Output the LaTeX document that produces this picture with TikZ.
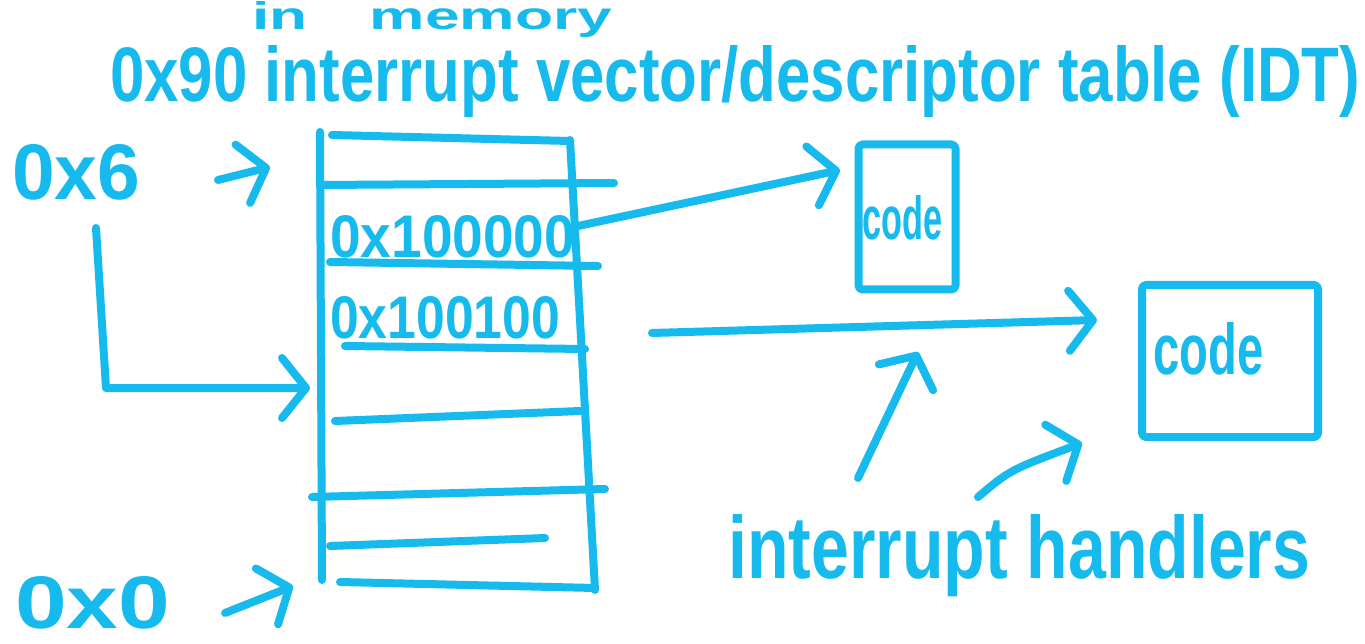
\documentclass[tikz,border=0pt]{standalone}
\usepackage{fontspec}
\setmainfont{Liberation Sans}
\usetikzlibrary{arrows.meta}
\definecolor{ink}{RGB}{22,186,236}
\newcommand{\hw}[3]{\resizebox{#1}{#2}{\bfseries #3}}
\begin{document}
\begin{tikzpicture}[x=1pt,y=-1pt,
  mk/.style={draw=ink, line width=8pt, line cap=round, line join=round},
  txt/.style={text=ink, inner sep=0pt, anchor=base west},
  hd/.style={-{Straight Barb[length=24pt,width=60pt,round]}},
  codebox/.style={mk, rectangle, rounded corners=4pt, inner sep=0pt}]
\useasboundingbox[fill=white] (0,0) rectangle (1365,644);

% texts
\node[txt] (mem) at (252,30) {\hw{360pt}{28pt}{in\quad memory}};
\node[txt] (idt) at (110,102) {\hw{1250pt}{56pt}{0x90 interrupt vector/descriptor table (IDT)}};
\node[txt] (ox6) at (12,200) {\hw{128pt}{55pt}{0x6}};
\node[txt] (ox0) at (15,628) {\hw{155pt}{52pt}{0x0}};
\node[txt] (va) at (330,258) {\hw{245pt}{42pt}{0x100000}};
\node[txt] (vb) at (330,338) {\hw{230pt}{42pt}{0x100100}};
\node[txt] (ih) at (728,578) {\hw{582pt}{64pt}{interrupt handlers}};

% table
\draw[mk] (320,132) -- (322,580);
\draw[mk] (570,140) -- (595,590);
\draw[mk] (332,135) -- (570,141);
\draw[mk] (320,185) -- (614,183);
\draw[mk] (330,262) -- (598,266);
\draw[mk] (345,346) -- (585,349);
\draw[mk] (335,421) -- (580,411);
\draw[mk] (312,497) -- (605,489);
\draw[mk] (330,546) -- (545,538);
\draw[mk] (340,582) -- (595,588);

% code boxes
\node[codebox, minimum width=97pt, minimum height=145pt] (code1) at (907,217) {};
\node[txt] (c1t) at (862,240) {\hw{80pt}{44pt}{code}};
\node[codebox, minimum width=176pt, minimum height=152pt] (code2) at (1230,361) {};
\node[txt] (c2t) at (1153,374) {\hw{110pt}{52pt}{code}};

% connector end points
\coordinate (s6) at (218,180);
\coordinate (e6) at (270,167);
\coordinate (d6) at (96,228);
\coordinate (k6) at (106,388);
\coordinate (t6) at (310,388);
\coordinate (s0) at (225,613);
\coordinate (e0) at (293,586);
\coordinate (sa) at (578,226);
\coordinate (ea) at (840,170);
\coordinate (sb) at (652,333);
\coordinate (eb) at (1097,320);
\coordinate (h1) at (858,478);
\coordinate (g1) at (918,352);
\coordinate (h2) at (978,497);
\coordinate (g2) at (1082,443);

% connectors
\draw[mk,hd] (s6) -- (e6);
\draw[mk,hd] (d6) -- (k6) -- (t6);
\draw[mk,hd] (s0) -- (e0);
\draw[mk,hd] (sa) -- (ea);
\draw[mk,hd] (sb) -- (eb);
\draw[mk,hd] (h1) -- (g1);
\draw[mk,hd] (h2) .. controls (1010,470) .. (g2);
\end{tikzpicture}
\end{document}
